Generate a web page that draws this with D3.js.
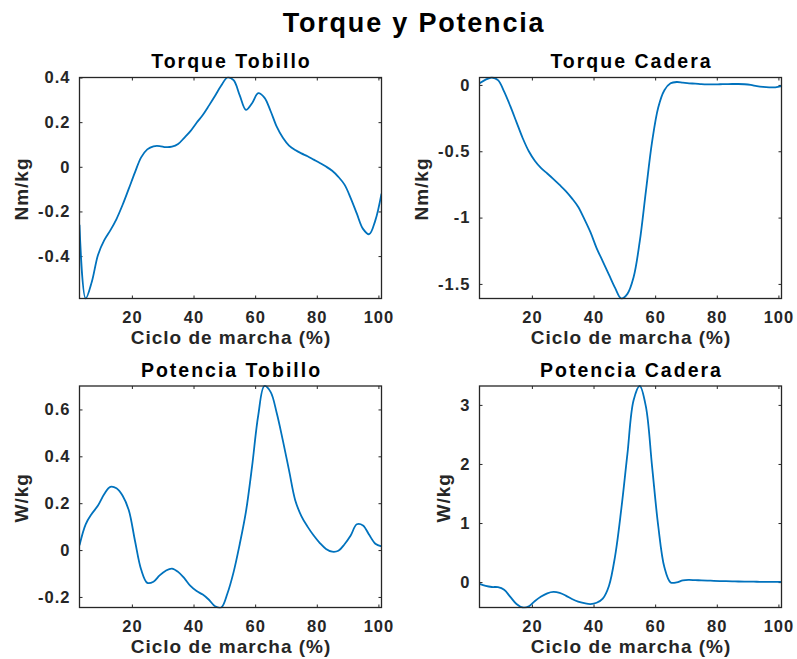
<!DOCTYPE html>
<html>
<head>
<meta charset="utf-8">
<script src="https://cdn.jsdelivr.net/npm/d3@7"></script>
<style>
  html, body { margin: 0; padding: 0; background: #fff; }
  svg { display: block; font-family: "Liberation Sans", Arial, Helvetica, sans-serif; font-weight: bold; }
</style>
</head>
<body>
<svg id="chart" width="797" height="659"></svg>
<script>
// Gait cycle samples (% of stride)
const cycle = [3, 5, 7, 9, 11, 13, 15, 17, 19, 21, 23, 25, 27, 29, 31, 33, 35, 37, 39, 41,
  43, 45, 47, 49, 51, 53, 55, 57, 59, 61, 63, 65, 67, 69, 71, 73, 75, 77, 79, 81,
  83, 85, 87, 89, 91, 93, 95, 97, 99, 101];

// Ankle torque (Nm/kg)
const torqueTobillo = [-0.26, -0.59, -0.515, -0.395, -0.33, -0.285, -0.234, -0.17, -0.098, -0.025,
  0.042, 0.078, 0.092, 0.093, 0.088, 0.09, 0.102, 0.13, 0.16, 0.197,
  0.232, 0.274, 0.318, 0.364, 0.40, 0.388, 0.32, 0.255, 0.285, 0.33,
  0.31, 0.25, 0.18, 0.13, 0.095, 0.075, 0.06, 0.047, 0.032, 0.017,
  0.001, -0.018, -0.045, -0.08, -0.14, -0.21, -0.278, -0.302, -0.24, -0.12];

// Hip torque (Nm/kg)
const torqueCadera = [0.012, 0.04, 0.056, 0.036, -0.05, -0.16, -0.28, -0.40, -0.50, -0.573,
  -0.627, -0.668, -0.71, -0.754, -0.80, -0.855, -0.918, -1.01, -1.11, -1.23,
  -1.33, -1.43, -1.53, -1.61, -1.575, -1.45, -1.18, -0.80, -0.43, -0.17,
  -0.04, 0.012, 0.022, 0.017, 0.012, 0.01, 0.006, 0.004, 0.004, 0.005,
  0.006, 0.007, 0.007, 0.005, 0.0, -0.009, -0.015, -0.018, -0.018, -0.009];

// Ankle power (W/kg)
const potenciaTobillo = [0.02, 0.11, 0.155, 0.19, 0.238, 0.27, 0.264, 0.232, 0.17, 0.04,
  -0.083, -0.14, -0.135, -0.108, -0.088, -0.079, -0.093, -0.12, -0.153, -0.175,
  -0.19, -0.212, -0.24, -0.245, -0.185, -0.094, 0.026, 0.163, 0.357, 0.575,
  0.70, 0.675, 0.585, 0.467, 0.34, 0.213, 0.145, 0.10, 0.062, 0.03,
  0.005, -0.007, -0.003, 0.025, 0.062, 0.11, 0.105, 0.065, 0.027, 0.016];

// Hip power (W/kg)
const potenciaCadera = [-0.03, -0.065, -0.083, -0.086, -0.13, -0.25, -0.37, -0.43, -0.41, -0.32,
  -0.245, -0.19, -0.167, -0.183, -0.228, -0.286, -0.33, -0.357, -0.372, -0.35,
  -0.28, -0.065, 0.44, 1.23, 2.17, 3.08, 3.32, 2.97, 1.96, 0.95,
  0.25, -0.005, -0.005, 0.03, 0.037, 0.033, 0.03, 0.026, 0.022, 0.018,
  0.015, 0.012, 0.01, 0.008, 0.007, 0.006, 0.005, 0.005, 0.004, 0.004];

// Tick values
const xTicks = [20, 40, 60, 80, 100];
const torqueTobilloTicks = [-0.4, -0.2, 0, 0.2, 0.4];
const torqueCaderaTicks = [-1.5, -1, -0.5, 0];
const potenciaTobilloTicks = [-0.2, 0, 0.2, 0.4, 0.6];
const potenciaCaderaTicks = [0, 1, 2, 3];

const xDomain = [3, 101];

const panels = [
  { title: "Torque Tobillo", unit: "Nm/kg", values: torqueTobillo, ticks: torqueTobilloTicks, col: 0, row: 0 },
  { title: "Torque Cadera", unit: "Nm/kg", values: torqueCadera, ticks: torqueCaderaTicks, col: 1, row: 0 },
  { title: "Potencia Tobillo", unit: "W/kg", values: potenciaTobillo, ticks: potenciaTobilloTicks, col: 0, row: 1 },
  { title: "Potencia Cadera", unit: "W/kg", values: potenciaCadera, ticks: potenciaCaderaTicks, col: 1, row: 1 }
];

// Axes boxes in page pixels
const colX = [[79.5, 381.5], [479.5, 781.5]];
const rowY = [[77.5, 298.5], [386, 607.5]];

const ink = "#262626";
const svg = d3.select("#chart");

svg.append("text")
  .attr("x", 414).attr("y", 32)
  .attr("text-anchor", "middle")
  .attr("font-size", 27).attr("letter-spacing", 1.8)
  .attr("fill", "#000")
  .text("Torque y Potencia");

panels.forEach((p, i) => {
  const [x0, x1] = colX[p.col];
  const [y0, y1] = rowY[p.row];
  const x = d3.scaleLinear().domain(xDomain).range([x0, x1]);
  const y = d3.scaleLinear().domain(d3.extent(p.values)).range([y1, y0]);

  const g = svg.append("g");

  const fmt = d => String(d);

  // left axis with labels, inward ticks
  const left = g.append("g").attr("transform", `translate(${x0},0)`)
    .call(d3.axisLeft(y).tickValues(p.ticks).tickFormat(fmt).tickSize(-3).tickPadding(9));
  // bottom axis with labels
  g.append("g").attr("transform", `translate(0,${y1})`)
    .call(d3.axisBottom(x).tickValues(xTicks).tickFormat(fmt).tickSize(-3).tickPadding(12.5));
  // mirrored ticks on right and top
  g.append("g").attr("transform", `translate(${x1},0)`)
    .call(d3.axisRight(y).tickValues(p.ticks).tickFormat("").tickSize(-3));
  g.append("g").attr("transform", `translate(0,${y0})`)
    .call(d3.axisTop(x).tickValues(xTicks).tickFormat("").tickSize(-3));

  g.selectAll(".domain").remove();
  g.selectAll(".tick line").attr("stroke", ink).attr("stroke-width", 1);
  g.selectAll(".tick text")
    .attr("fill", ink)
    .attr("font-size", 16.5)
    .attr("letter-spacing", 1)
    .attr("font-family", "Liberation Sans, Arial, sans-serif")
    .attr("font-weight", "bold");

  // data curve, clipped to the axes box
  const clipId = "clip" + i;
  svg.append("clipPath").attr("id", clipId)
    .append("rect").attr("x", x0).attr("y", y0 - 1).attr("width", x1 - x0).attr("height", y1 - y0 + 2);

  const line = d3.line()
    .x((d, k) => x(cycle[k]))
    .y(d => y(d))
    .curve(d3.curveCatmullRom.alpha(0.5));

  g.append("path")
    .datum(p.values)
    .attr("clip-path", `url(#${clipId})`)
    .attr("fill", "none")
    .attr("stroke", "#0072BD")
    .attr("stroke-width", 1.8)
    .attr("stroke-linejoin", "round")
    .attr("d", line);

  // axes box
  g.append("rect")
    .attr("x", x0).attr("y", y0)
    .attr("width", x1 - x0).attr("height", y1 - y0)
    .attr("fill", "none").attr("stroke", ink).attr("stroke-width", 1.3);

  // subplot title
  g.append("text")
    .attr("x", (x0 + x1) / 2 + 1).attr("y", y0 - 9.5)
    .attr("text-anchor", "middle")
    .attr("font-size", 19.5).attr("letter-spacing", 2)
    .attr("fill", "#000")
    .text(p.title);

  // x label
  g.append("text")
    .attr("x", (x0 + x1) / 2 + 0.5).attr("y", y1 + 45.8)
    .attr("text-anchor", "middle")
    .attr("font-size", 19).attr("letter-spacing", 1)
    .attr("fill", ink)
    .text("Ciclo de marcha (%)");

  // y label placed left of the widest tick label
  let maxW = 0;
  left.selectAll(".tick text").each(function () {
    maxW = Math.max(maxW, this.getComputedTextLength());
  });
  const lx = x0 - 9 - maxW - 10;
  g.append("text")
    .attr("transform", `translate(${lx},${(y0 + y1) / 2 + 1}) rotate(-90)`)
    .attr("text-anchor", "middle")
    .attr("font-size", 19).attr("letter-spacing", 1)
    .attr("fill", ink)
    .text(p.unit);
});
</script>
</body>
</html>
